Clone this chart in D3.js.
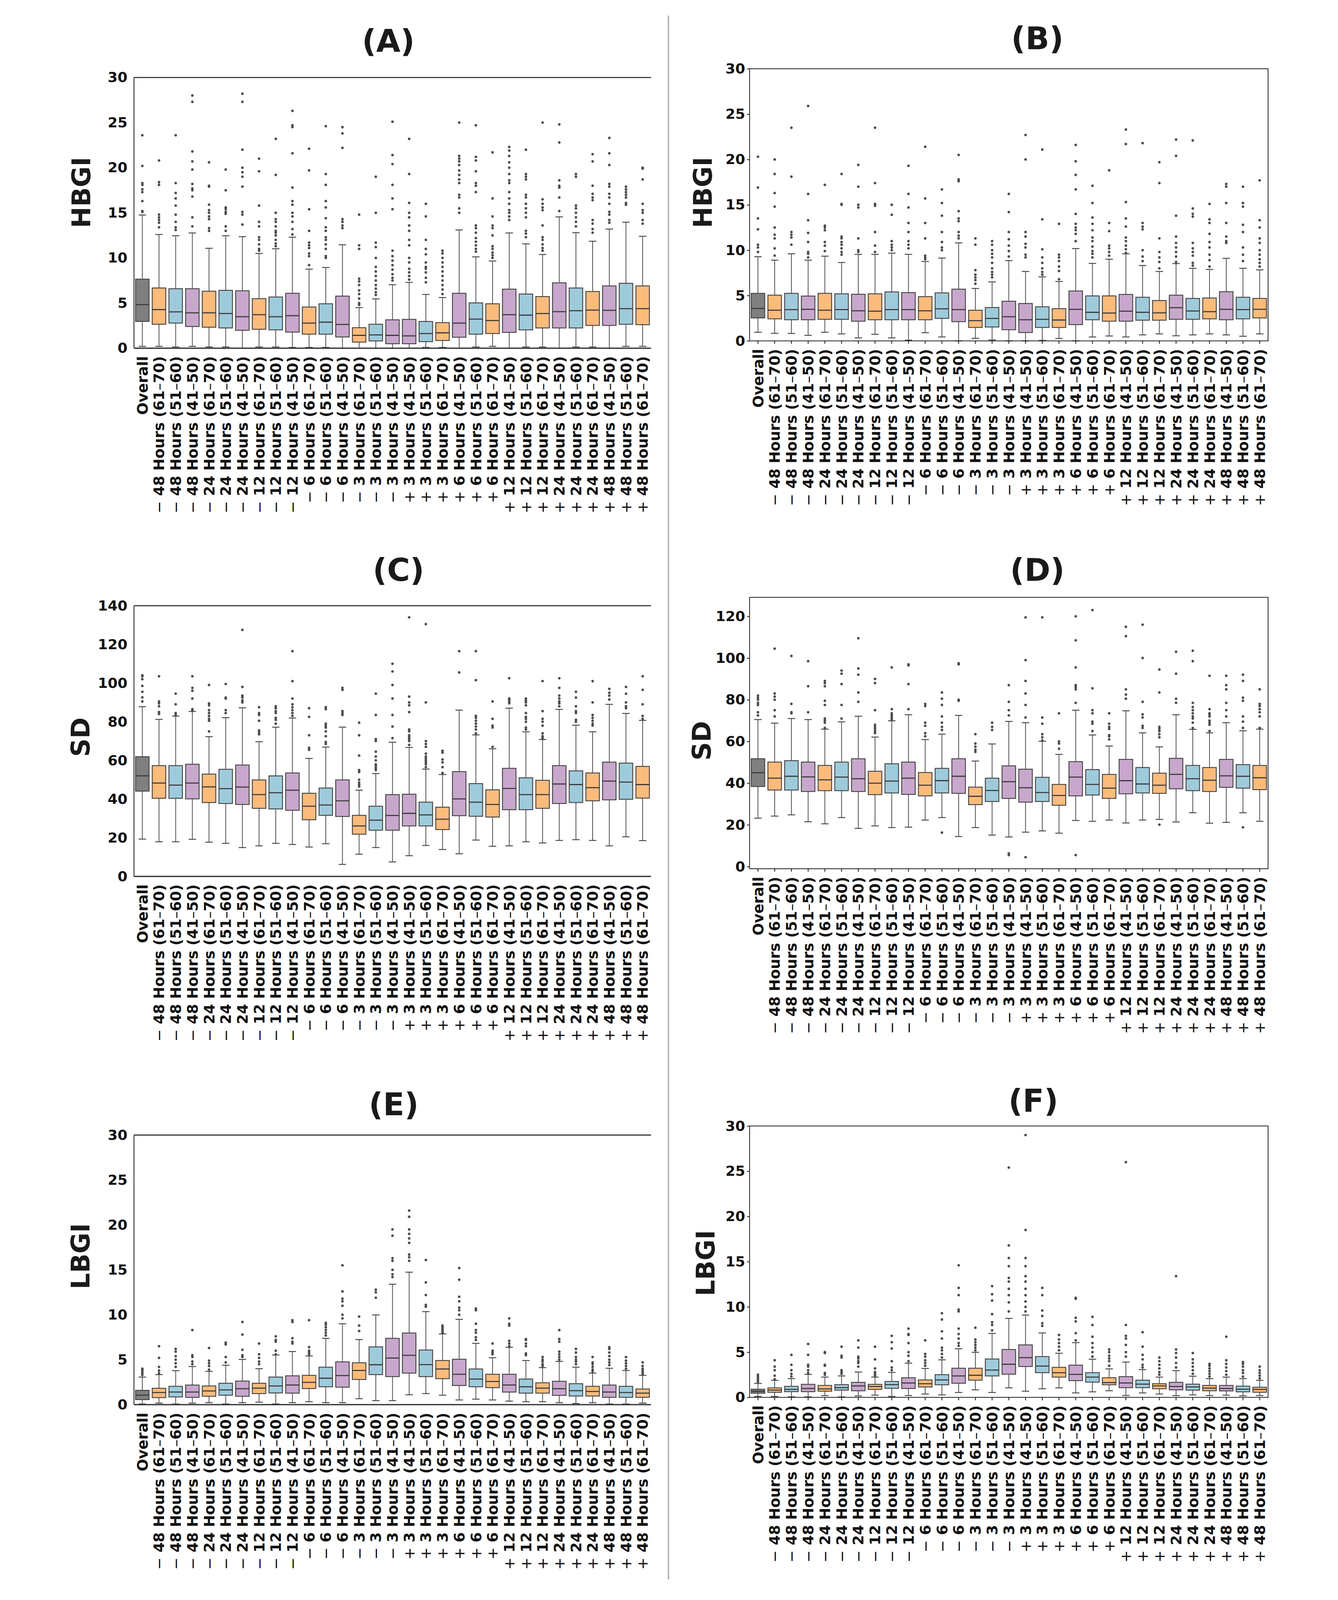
<!DOCTYPE html>
<html><head><meta charset="utf-8">
<script src="https://cdn.jsdelivr.net/npm/d3@7"></script>
<style>html,body{margin:0;padding:0;background:#fff;overflow:hidden;width:100%;height:100%}svg{display:block;width:100vw;height:100vh}</style>
</head><body>
<script>
// ---------- categories ----------
const categories = ["Overall",
 "− 48 Hours (61–70)","− 48 Hours (51–60)","− 48 Hours (41–50)",
 "− 24 Hours (61–70)","− 24 Hours (51–60)","− 24 Hours (41–50)",
 "− 12 Hours (61–70)","− 12 Hours (51–60)","− 12 Hours (41–50)",
 "− 6 Hours (61–70)","− 6 Hours (51–60)","− 6 Hours (41–50)",
 "− 3 Hours (61–70)","− 3 Hours (51–60)","− 3 Hours (41–50)",
 "+ 3 Hours (41–50)","+ 3 Hours (51–60)","+ 3 Hours (61–70)",
 "+ 6 Hours (41–50)","+ 6 Hours (51–60)","+ 6 Hours (61–70)",
 "+ 12 Hours (41–50)","+ 12 Hours (51–60)","+ 12 Hours (61–70)",
 "+ 24 Hours (41–50)","+ 24 Hours (51–60)","+ 24 Hours (61–70)",
 "+ 48 Hours (41–50)","+ 48 Hours (51–60)","+ 48 Hours (61–70)"];
const groups = ["Overall","61–70","51–60","41–50"];
const groupColors = ["#7f7f7f","#fbbb7b","#9ecbdb","#c8a7cc"];

// ---------- tick labels ----------
const ticksHBGI = [0,5,10,15,20,25,30];
const ticksSD_C = [0,20,40,60,80,100,120,140];
const ticksSD_D = [0,20,40,60,80,100,120];
const ticksLBGI = [0,5,10,15,20,25,30];

// ---------- (A) HBGI ----------
const A_lo  = [0.2,0.2,0.13,0.2,0.13,0.13,0,0.13,0.13,0.08,0.08,0.08,0,0,0,0,0,0.08,0.08,0,0.13,0.2,0,0.13,0.13,0,0.13,0.13,0,0.2,0.2];
const A_q1  = [2.96,2.65,2.78,2.4,2.32,2.24,1.98,2.09,2.03,1.78,1.55,1.55,1.24,0.67,0.8,0.49,0.49,0.72,0.85,1.21,1.55,1.62,1.75,2.03,2.24,2.24,2.24,2.52,2.52,2.65,2.6];
const A_med = [4.82,4.27,4.02,3.91,3.91,3.84,3.48,3.71,3.48,3.6,2.78,2.88,2.63,1.42,1.47,1.42,1.36,1.62,1.7,2.78,3.22,3.06,3.71,3.66,3.84,4.04,4.15,4.22,4.2,4.38,4.38];
const A_q3  = [7.65,6.67,6.59,6.59,6.31,6.41,6.36,5.49,5.67,6.08,4.56,4.92,5.77,2.27,2.65,3.14,3.19,2.96,2.83,6.08,5.02,4.92,6.54,6.0,5.72,7.24,6.67,6.28,6.9,7.19,6.9];
const A_hi  = [14.76,12.6,12.46,12.77,11.07,12.46,12.36,10.5,11.02,12.3,8.76,8.94,11.46,4.5,5.46,7.03,7.29,5.95,5.61,13.1,10.12,9.66,12.77,11.56,10.38,14.55,12.8,11.85,13.2,13.96,12.4];
const A_out = [[15.1,15.2,16.3,17.3,17.6,18.1,18.3,20.2,23.6],[13.4,13.9,14.2,14.5,14.8,18.1,18.4,20.8],[13.1,13.4,14.0,14.8,15.8,16.6,17.2,18.3,23.6],[13.5,14.5,16.8,17.5,17.7,18.2,19.8,20.7,21.8,27.3,28.0],[13.0,13.3,14.3,14.6,15.0,15.3,15.9,17.9,18.0,20.6],[13.0,13.5,14.9,15.1,15.4,15.6,17.5,19.8],[13.7,14.8,15.1,17.9,19.0,19.5,20.0,22.0,27.3,28.2],[10.8,11.0,11.5,12.0,12.3,13.5,14.0,15.8,19.6,21.0],[11.3,11.6,12.0,12.5,12.8,13.0,13.5,14.0,14.3,15.0,19.2,23.2],[12.6,13.2,14.0,14.6,15.0,15.9,16.3,17.8,21.6,24.5,24.7,26.3],[9.2,10.2,10.5,11.1,11.4,11.7,13.0,15.4,19.7,22.1],[10.0,10.2,11.0,11.5,12.0,12.3,13.0,13.4,14.4,15.6,16.3,18.1,19.3,24.6],[13.3,13.6,14.0,14.3,22.2,23.8,24.5],[4.8,5.0,5.5,6.0,6.4,7.0,7.4,7.7,11.0,11.4,14.8],[5.9,6.2,6.6,7.0,7.5,8.0,8.5,9.0,10.0,11.2,11.7,15.0,19.0],[7.5,7.8,8.2,8.7,9.2,9.7,10.2,10.8,15.4,16.6,18.1,20.4,21.4,25.1],[7.6,8.0,8.4,8.8,9.5,10.0,11.4,12.0,13.0,13.6,14.5,15.0,16.1,19.3,23.2],[7.3,7.8,8.4,8.8,9.0,9.5,10.4,11.0,12.0,14.6,16.0],[6.0,6.5,7.0,7.5,8.0,8.5,9.0,9.5,10.0,10.5,10.8],[15.0,15.5,16.7,17.0,18.3,18.7,19.2,19.7,20.3,20.7,21.0,21.3,25.0],[10.7,11.0,11.4,11.8,12.2,12.8,13.3,13.6,17.3,18.0,18.3,19.6,20.8,21.2,24.7],[10.0,10.3,10.6,11.0,11.3,12.5,13.3,13.6,14.6,16.6,21.7],[14.2,14.6,15.0,15.3,16.0,16.6,17.3,18.3,18.6,19.3,20.0,20.6,21.3,21.9,22.3],[12.3,12.7,13.0,14.5,15.0,15.5,16.0,16.7,17.0,18.7,19.0,19.3,22.0],[10.8,11.1,11.5,12.0,12.3,13.6,15.3,15.6,16.0,16.5,25.0],[15.2,16.7,17.8,18.0,18.6,22.8,24.8],[13.5,14.0,14.5,15.0,15.5,15.8,19.0,19.3],[12.8,13.2,13.8,14.2,16.4,16.7,17.1,18.0,20.7,21.5],[13.9,14.2,14.8,15.1,16.0,16.7,17.1,17.9,18.2,20.3,21.6,23.3],[15.9,16.1,16.7,17.0,17.3,17.6,17.9],[13.8,14.2,15.0,15.3,16.0,18.7,19.9,20.0]];

// ---------- (B) HBGI ----------
const B_lo  = [0.95,0.84,0.82,0.61,0.95,0.77,0.33,0.72,0.33,0.08,0.9,0.43,0,0.28,0.1,0,0,0.05,0.26,0,0.43,0.54,0.43,0.66,0.77,0.56,0.66,0.77,0.66,0.51,0.77];
const B_q1  = [2.53,2.43,2.33,2.33,2.38,2.38,2.17,2.33,2.33,2.33,2.33,2.48,2.12,1.48,1.53,1.23,0.92,1.48,1.48,1.79,2.33,2.17,2.17,2.28,2.28,2.38,2.38,2.43,2.33,2.43,2.53];
const B_med = [3.58,3.38,3.45,3.48,3.38,3.45,3.32,3.27,3.45,3.45,3.32,3.53,3.45,2.23,2.48,2.66,2.33,2.38,2.3,3.48,3.15,3.07,3.27,3.15,3.09,3.66,3.3,3.22,3.48,3.45,3.48];
const B_q3  = [5.24,5.04,5.24,4.94,5.24,5.19,5.14,5.19,5.4,5.32,4.88,5.29,5.7,3.38,3.68,4.37,4.12,3.76,3.55,5.5,4.96,4.96,5.12,4.81,4.45,5.04,4.68,4.73,5.42,4.81,4.68];
const B_hi  = [9.28,8.9,9.6,8.9,9.34,8.64,9.54,9.54,9.67,9.54,8.75,9.13,10.8,5.78,6.5,8.85,7.65,7.06,6.55,10.18,8.54,9.0,9.6,8.31,7.65,8.52,8.0,7.88,9.1,8.0,7.83];
const B_out = [[9.8,10.3,10.6,12.3,13.5,16.9,20.3],[9.4,10.2,11.3,11.7,12.5,14.8,16.3,18.4,20.0],[10.6,11.4,11.7,12.0,18.1,23.5],[9.2,9.6,9.8,10.9,11.9,13.3,16.2,25.9],[9.9,10.5,10.9,12.2,12.5,12.7,17.2],[9.5,9.8,10.2,10.6,10.9,11.3,11.5,15.0,15.1,18.4],[9.8,10.0,11.3,14.7,15.0,17.0,19.4],[9.8,10.5,12.0,14.9,15.1,17.4,23.5],[10.0,10.3,10.6,11.0,13.9,15.0],[10.2,10.6,11.0,12.0,13.0,14.7,16.2,19.3],[9.0,9.2,9.4,11.3,13.0,15.7,21.4],[10.0,10.3,10.9,12.0,13.8,15.2,16.7],[11.3,11.6,12.0,13.2,13.5,14.3,17.6,17.8,20.5],[6.3,6.7,7.0,7.3,7.8,10.6,11.3],[7.0,7.3,7.6,8.0,8.6,9.2,9.6,10.0,10.6,11.0],[9.3,9.9,10.5,11.2,12.0,14.2,16.2],[9.2,9.5,10.3,10.7,11.5,12.0,20.0,22.7],[7.3,7.6,8.0,8.6,9.2,10.1,13.4,21.1],[6.8,7.7,8.2,8.8,9.2,9.5,12.9],[11.0,11.8,12.2,12.5,12.9,14.0,16.7,18.3,19.8,21.6],[9.2,9.6,9.9,10.4,11.0,11.4,12.2,12.9,13.6,15.2,17.1],[9.4,9.8,10.2,10.5,12.1,13.0,18.8],[9.7,10.1,10.5,11.0,11.4,12.6,13.5,15.3,21.7,23.3],[8.8,9.3,10.0,12.3,12.6,13.0,21.8],[8.0,8.7,9.2,9.8,11.3,17.4,19.7],[8.7,9.3,9.8,10.3,10.8,11.5,13.8,20.4,22.2],[8.3,8.6,9.4,9.8,10.2,10.8,13.7,14.0,14.6,22.1],[8.2,8.9,9.5,10.3,10.9,11.8,13.0,13.4,15.1],[10.8,11.0,11.5,13.0,15.2,17.0,17.3],[8.8,9.5,10.3,12.0,12.8,14.8,15.2,17.0],[8.2,8.6,9.0,9.5,10.0,10.8,11.3,12.5,13.3,17.7]];

// ---------- (C) SD ----------
const C_lo  = [19.3,17.9,17.9,19.2,17.7,17.1,14.9,15.8,17.1,16.5,15.2,16.9,6.2,11.5,14.9,7.5,10.7,16.0,13.9,11.7,18.8,15.6,15.8,17.9,17.3,18.6,19.0,18.6,15.8,20.5,18.5];
const C_q1  = [44.1,40.4,40.4,40.1,38.2,37.7,37.2,35.2,34.9,34.2,29.3,31.6,31.0,21.8,23.9,23.9,26.1,26.1,24.2,31.4,31.1,30.7,34.5,34.5,35.2,37.7,38.2,39.1,39.6,39.9,40.5];
const C_med = [52.0,48.3,47.2,48.3,46.3,45.4,46.2,42.3,43.3,44.6,36.3,36.9,39.1,26.1,29.1,31.5,32.6,31.8,29.6,40.1,38.4,37.2,45.5,42.3,42.3,47.8,47.5,45.9,49.3,48.8,47.5];
const C_q3  = [61.9,57.3,57.3,58.0,52.9,55.4,57.6,49.9,52.0,53.5,43.0,45.7,49.9,31.6,36.3,42.3,42.5,38.4,35.8,54.2,48.0,44.8,55.9,51.0,49.7,57.3,54.6,53.5,59.1,58.6,56.9];
const C_hi  = [87.8,81.2,82.9,85.3,72.3,82.1,87.2,69.7,77.2,81.9,61.0,66.9,77.2,44.6,53.2,69.4,66.7,55.5,52.7,86.0,73.2,66.0,87.0,74.8,70.8,86.4,78.2,74.8,89.0,84.3,80.7];
const C_out = [[90.5,92.6,95.5,98.5,102,103.5,104],[84,85,88,89.5,90.5,103.5],[83.5,84.5,89,94.5],[86,86.5,92,96,97.5,103.5],[75,80.5,81.5,83,84.5,86,88.5,89.5,99],[84.5,86,92,92.5,99.5],[90,91,92.5,93.5,98,127.5],[73.5,74.5,75.5,80.5,83.5,84.5,87.5],[79,81,82,84.5,85.5,87,88],[83,84.5,86,87.5,89,92,101,116.5],[65.5,66.5,73,82.5,87],[68.5,69.5,72.5,75,77,78,79,86.5,87.5],[83.5,84.5,85.5,96.5,97.5],[46.5,47.5,48.5,50,54,55,62.5,73,79.5],[55,56,57,58,60,62,64.5,70,71,83.5,94.5],[71.5,77.5,83.5,92,99,106,110],[68,70,71,72,73,75,76,85,88.5,90,93,134],[56.5,58,59,60,61,62,63.5,67,68.5,70,90,130.5],[53.5,56.5,59,60.5,64,65],[105.5,116.5],[74,76,77.5,79,80.5,82,83,101.5,116.5],[67,77,78,81.5,90.5],[89.5,90.5,91.5,92,102.5],[76,77,80,81.5,82.5,84.5,88.5,90,91,92],[71.5,72.5,74,78,80,81.5,85.5,101],[88,89.5,90.5,92,93.5,97.5,102.5],[80,81,84.5,85.5,88,92.5,95.5],[78,79,80.5,82,83.5,90,101],[91.5,93.5,95,97],[87,88,90,94.5,98],[81.5,83,89,96.5,103.5]];

// ---------- (D) SD ----------
const D_lo  = [23.2,24.2,24.8,21.5,20.5,23.5,18.3,19.5,18.7,18.9,22.3,23.5,14.4,18.7,15.1,14.2,16.5,17.1,16.0,22.1,21.7,22.3,20.9,22.3,22.6,21.4,25.8,20.8,21.2,25.8,21.7];
const D_q1  = [38.4,36.7,36.7,36.0,36.4,36.4,36.0,34.5,35.3,34.6,33.9,35.3,35.1,29.7,31.2,32.7,30.9,31.2,29.4,33.9,34.3,32.7,34.9,35.3,35.1,37.3,36.4,36.0,38.0,37.6,36.9];
const D_med = [45.0,42.4,43.3,43.0,41.6,42.9,42.1,40.0,41.0,42.4,39.0,41.2,43.3,33.7,36.5,40.7,37.8,35.5,34.1,42.9,39.4,37.6,41.2,39.6,39.0,44.2,42.1,41.4,43.5,43.3,42.6];
const D_q3  = [51.7,50.1,50.8,50.1,48.5,50.1,51.7,45.7,49.3,50.1,45.1,47.1,51.7,38.1,42.4,48.3,46.7,42.8,39.4,50.3,46.5,44.2,51.4,47.5,44.8,51.9,48.5,47.5,51.4,48.9,48.5];
const D_hi  = [70.5,68.8,71.0,70.5,65.9,69.4,72.1,62.1,69.9,72.8,60.9,63.5,72.5,50.6,58.8,69.6,69.0,60.1,53.8,75.0,63.1,57.8,74.7,64.1,57.4,72.8,65.8,64.1,69.0,65.1,65.9];
const D_out = [[72.5,74,77.5,78.5,80,81,82],[72,75,80,81.5,83,104.5],[73.5,74,78,101],[74,86.5,98.5],[66.5,69,70,71,77.5,79.5,86.5,88,89],[71,77.5,87.5,92.5,94],[79,83.5,92,95,109.5],[64,65,66,67,68,75,88,90],[70.5,71.5,72.5,73.5,75.5,95.5],[75.5,87.5,96.5,97],[62.5,64,67.5,69,77,78],[16.3,65.5,67,69,72,77.5,80.5,83.5],[79.5,80,97,97.5],[55,56,57.5,59,63.5],[65.5,67,69],[5.5,6.3,72.5,75,79,87],[4.5,71.5,77.5,83,89,99,119.5],[60.5,62,63.5,68.5,71.5,119.5],[56.5,59,60,73.5],[5.5,78.5,85,86,87,95.5,108.5,120],[65,68.5,69.5,73.5,75,85.5,123],[61,62.5,63,66,67,68.5,73.5],[80.5,82.5,85,110.5,115],[66.5,67.5,71.5,73,79,100,116],[20.1,62,63.5,65,66,67,83.5,94.5],[78.5,80.5,92.5,103],[66.5,69,71,72,73.5,75,76.5,78.5,98.5,103.5],[65,68,69,70,72,73,73.5,75.5,91.5],[72,75,78.5,85,87,91.5],[18.8,66.5,69.5,72,79.5,81,89,92],[66.5,72,74,75.5,77,78,85]];

// ---------- (E) LBGI ----------
const E_lo  = [0.07,0.17,0.07,0.17,0.22,0.07,0.22,0.27,0.07,0.22,0.32,0.22,0.22,0.66,0.44,0.44,1.1,1.23,1.05,0.52,0.61,0.52,0.39,0.32,0.32,0.22,0.12,0.22,0.07,0.07,0.17];
const E_q1  = [0.56,0.78,0.86,0.81,0.93,1.05,0.93,1.23,1.3,1.28,1.79,1.99,1.94,2.8,3.34,3.12,3.51,3.12,2.89,2.13,1.99,1.89,1.4,1.28,1.28,1.03,0.96,0.96,0.81,0.81,0.81];
const E_med = [1.05,1.35,1.4,1.4,1.52,1.64,1.77,1.84,2.08,2.18,2.48,2.94,3.24,3.8,4.44,5.18,5.49,4.46,3.97,3.38,2.85,2.58,2.18,1.99,1.84,1.77,1.55,1.47,1.4,1.35,1.28];
const E_q3  = [1.59,1.82,2.04,2.18,2.08,2.38,2.62,2.38,3.07,3.21,3.26,4.17,4.76,4.66,6.43,7.38,7.97,6.08,4.91,5.05,3.97,3.38,3.38,2.85,2.43,2.6,2.33,2.04,2.18,2.04,1.74];
const E_hi  = [3.07,3.34,3.78,4.24,3.7,4.39,5.03,4.0,5.52,5.91,5.42,7.38,9.0,7.24,9.98,13.4,14.74,10.35,7.87,9.49,6.82,5.22,6.38,4.91,4.12,4.81,4.17,3.51,4.05,3.8,3.26];
const E_out = [[3.3,3.5,3.7,3.9,4.0],[3.5,3.8,4.2,5.2,6.5],[4.2,4.6,5.0,5.4,5.9,6.2],[4.5,4.8,5.3,5.5,8.3],[3.9,4.3,4.6,4.9,6.3],[4.7,5.3,6.7,6.9],[5.3,5.5,6.1,7.8,9.2],[4.5,4.8,5.2,5.6,6.8],[5.6,6.0,7.0,7.2,7.6],[6.8,7.0,7.4,9.2,9.4],[5.6,5.8,6.0,6.4,9.4],[7.7,8.0,8.3,8.6,8.9,9.1],[9.6,10.0,11.0,11.5,11.8,12.6,15.5],[8.2,8.8,9.8],[11.9,12.5,12.8],[14.2,14.5,15.0,16.0,16.3,18.8,19.5],[16.0,16.4,16.7,18.0,18.5,19.0,19.5,20.9,21.6],[10.9,11.1,12.2,13.6,16.1],[8.0,8.2,8.4,8.6,8.8],[10.0,10.5,10.8,11.5,12.0,13.9,15.2],[7.2,7.5,8.0,8.3,9.0,10.5,10.7],[5.6,5.8,6.0,6.8],[6.5,6.8,7.1,8.8,9.0,9.6],[5.5,5.7,6.5,6.8,7.2,7.3],[4.3,4.5,4.8,5.0,5.3],[5.0,5.3,5.6,5.9,7.0,7.3,8.3],[4.5,4.8,5.0,5.3,5.8,6.2],[3.7,3.9,4.2,4.5,4.7,5.3],[4.4,4.7,5.0,5.4,5.8,6.2,6.4],[4.0,4.3,4.6,4.9,5.3],[3.4,3.6,3.8,4.0,4.3,4.7]];

// ---------- (F) LBGI ----------
const F_lo  = [0.1,0.1,0.05,0.05,0.2,0.05,0.15,0.24,0.1,0.2,0.37,0.27,0.54,0.83,0.54,1.05,0.68,0.95,1.05,0.49,0.61,0.73,0.2,0.49,0.37,0.2,0.27,0.2,0.24,0.17,0.2];
const F_q1  = [0.46,0.56,0.63,0.63,0.68,0.8,0.73,0.88,1.0,0.98,1.15,1.39,1.56,1.9,2.37,2.56,3.41,2.73,2.24,1.85,1.68,1.39,1.07,1.07,0.95,0.83,0.8,0.73,0.71,0.61,0.56];
const F_med = [0.68,0.8,0.88,0.98,0.93,1.07,1.27,1.2,1.41,1.59,1.51,1.93,2.37,2.44,3.02,3.66,4.39,3.46,2.73,2.54,2.24,1.63,1.59,1.46,1.27,1.2,1.15,1.02,0.98,0.9,0.88];
const F_q3  = [0.9,1.05,1.22,1.44,1.32,1.41,1.66,1.44,1.76,2.17,1.93,2.51,3.22,3.22,4.24,5.29,5.8,4.51,3.32,3.56,2.73,2.17,2.29,1.9,1.51,1.66,1.46,1.32,1.32,1.24,1.12];
const F_hi  = [1.54,1.88,2.07,2.54,2.24,2.37,2.8,2.24,2.76,3.78,3.2,4.15,5.37,4.98,7.07,8.73,9.1,7.12,4.88,6.05,4.22,3.15,3.9,3.07,2.24,2.95,2.34,2.07,2.24,2.07,1.88];
const F_out = [[1.7,1.9,2.1,2.3,2.5],[2.0,2.4,3.0,3.4,4.1],[2.3,2.6,3.0,3.6,4.7],[2.7,3.0,3.4,3.6,4.7,5.9],[2.5,2.7,3.5,3.6,4.9,5.0],[2.6,2.8,3.0,4.4,4.6,5.6],[3.4,3.8,4.0,4.3,4.5,5.5,6.3],[2.4,2.6,2.8,3.2,4.2,5.6],[3.0,3.3,4.0,5.4,6.1,6.8],[4.0,4.6,5.0,6.0,6.9,7.0,7.6],[3.5,3.8,4.1,4.5,4.8,6.3],[4.4,4.8,5.2,5.5,6.5,7.3,8.6,9.3],[5.7,6.0,6.5,7.0,7.6,9.5,9.7,11.3,12.1,14.6],[5.2,5.5,5.8,6.1,6.4,7.7],[7.4,8.0,8.3,9.2,10.7,11.4,12.3],[9.5,10.5,11.3,12.0,12.8,13.2,14.5,15.4,16.8,25.4],[9.5,10.0,10.6,11.3,12.0,12.8,13.4,14.5,15.4,18.5,29.0],[7.9,8.2,9.0,9.6,11.3,12.1],[5.2,5.6,6.0,6.4,6.9],[6.3,7.1,8.4,8.8,10.9,11.0],[4.5,5.0,5.5,6.0,6.7,8.0,8.9],[3.5,4.0,4.3,4.6,5.0,5.3],[4.5,5.0,5.8,6.5,6.8,8.0,26.0],[3.3,3.6,4.2,4.7,5.6,7.2],[2.5,2.8,3.2,3.6,4.0,4.4],[3.3,3.8,4.4,4.9,5.3,13.4],[2.6,3.0,3.4,3.8,4.2,4.9],[2.3,2.6,2.9,3.2,3.5,3.7],[2.5,2.9,3.3,3.7,4.1,6.7],[2.3,2.7,3.0,3.4,3.7,3.9],[2.1,2.4,2.7,3.0,3.4]];

// ---------- layout ----------
const W = 3425, H = 4398;
const panels = [
 {title:"(A)", ylabel:"HBGI", lo:A_lo,q1:A_q1,med:A_med,q3:A_q3,hi:A_hi,out:A_out, dom:[0,30], ticks:ticksHBGI,
  x0:242,x1:1663,yT:213,yB:957, frame:false, tx:941,ty:143, lx:122,ly:529},
 {title:"(B)", ylabel:"HBGI", lo:B_lo,q1:B_q1,med:B_med,q3:B_q3,hi:B_hi,out:B_out, dom:[0,30], ticks:ticksHBGI,
  x0:1934,x1:3359,yT:189,yB:937, frame:true, tx:2725,ty:135, lx:1830,ly:529},
 {title:"(C)", ylabel:"SD", lo:C_lo,q1:C_q1,med:C_med,q3:C_q3,hi:C_hi,out:C_out, dom:[0,140], ticks:ticksSD_C,
  x0:242,x1:1663,yT:1665,yB:2409, frame:false, tx:969,ty:1597, lx:120,ly:2026},
 {title:"(D)", ylabel:"SD", lo:D_lo,q1:D_q1,med:D_med,q3:D_q3,hi:D_hi,out:D_out, dom:[-1.05,129.1], ticks:ticksSD_D,
  x0:1934,x1:3359,yT:1642,yB:2388, frame:true, tx:2725,ty:1597, lx:1827,ly:2036},
 {title:"(E)", ylabel:"LBGI", lo:E_lo,q1:E_q1,med:E_med,q3:E_q3,hi:E_hi,out:E_out, dom:[0,30], ticks:ticksLBGI,
  x0:242,x1:1663,yT:3120,yB:3861, frame:false, tx:956,ty:3065, lx:120,ly:3453},
 {title:"(F)", ylabel:"LBGI", lo:F_lo,q1:F_q1,med:F_med,q3:F_q3,hi:F_hi,out:F_out, dom:[0,30], ticks:ticksLBGI,
  x0:1934,x1:3359,yT:3095,yB:3841, frame:true, tx:2714,ty:3056, lx:1838,ly:3472}
];

const svg = d3.select("body").append("svg").attr("viewBox",`0 0 ${W} ${H}`).attr("preserveAspectRatio","xMidYMid meet");
svg.append("rect").attr("width",W).attr("height",H).attr("fill","#ffffff");

// separator
svg.append("line").attr("x1",1711).attr("x2",1711).attr("y1",43).attr("y2",4341)
  .attr("stroke","#b3b3ba").attr("stroke-width",4);

const color = d3.scaleOrdinal().domain(groups).range(groupColors);
const groupOf = c => { const m = c.match(/\((\d\d–\d\d)\)/); return m ? m[1] : "Overall"; };
const EDGE = "#444444";
const tickFont = "'DejaVu Sans', Verdana, sans-serif";

panels.forEach(p => {
  const g = svg.append("g");
  const x = d3.scaleBand().domain(categories).range([p.x0, p.x1]).paddingInner(0.19).paddingOuter(0.095);
  const y = d3.scaleLinear().domain(p.dom).range([p.yB, p.yT]);
  const bw = x.bandwidth();
  const cx = c => x(c) + bw/2;
  const capW = bw*0.55;

  const items = categories.map((c,i)=>({c, lo:p.lo[i], q1:p.q1[i], med:p.med[i], q3:p.q3[i], hi:p.hi[i], out:p.out[i]}));
  const bg = g.append("g");
  items.forEach(d => {
    const b = bg.append("g");
    const xc = cx(d.c);
    b.append("line").attr("x1",xc).attr("x2",xc).attr("y1",y(d.q3)).attr("y2",y(d.hi)).attr("stroke",EDGE).attr("stroke-width",2);
    b.append("line").attr("x1",xc).attr("x2",xc).attr("y1",y(d.q1)).attr("y2",y(d.lo)).attr("stroke",EDGE).attr("stroke-width",2);
    b.append("line").attr("x1",xc-capW/2).attr("x2",xc+capW/2).attr("y1",y(d.hi)).attr("y2",y(d.hi)).attr("stroke",EDGE).attr("stroke-width",2.5);
    b.append("line").attr("x1",xc-capW/2).attr("x2",xc+capW/2).attr("y1",y(d.lo)).attr("y2",y(d.lo)).attr("stroke",EDGE).attr("stroke-width",2.5);
    b.append("rect").attr("x",x(d.c)).attr("width",bw).attr("y",y(d.q3)).attr("height",y(d.q1)-y(d.q3))
      .attr("fill",color(groupOf(d.c))).attr("stroke",EDGE).attr("stroke-width",2.5);
    b.append("line").attr("x1",x(d.c)).attr("x2",x(d.c)+bw).attr("y1",y(d.med)).attr("y2",y(d.med)).attr("stroke","#3a3a3a").attr("stroke-width",3);
    b.selectAll("circle").data(d.out).join("circle").attr("cx",xc).attr("cy",v=>y(v)).attr("r",3.2)
      .attr("fill","#505050").attr("stroke","#3a3a3a").attr("stroke-width",0.8);
  });

  // y axis
  const ya = g.append("g").attr("transform",`translate(${p.x0},0)`)
    .call(d3.axisLeft(y).tickValues(p.ticks).tickFormat(d3.format("d")).tickSize(p.frame?7:0).tickPadding(p.frame?5:18));
  ya.select(".domain").remove();
  ya.selectAll("line").attr("stroke","#000").attr("stroke-width",2);
  ya.selectAll("text").attr("font-family",tickFont).attr("font-weight","bold").attr("font-size",39).attr("fill","#111");

  // x axis
  const xa = g.append("g").attr("transform",`translate(0,${p.yB})`)
    .call(d3.axisBottom(x).tickSize(p.frame?8:0).tickPadding(0));
  xa.select(".domain").remove();
  xa.selectAll("line").attr("stroke","#000").attr("stroke-width",2);
  xa.selectAll("text").each(function(c){
    const t = d3.select(this);
    t.text(null).attr("transform","rotate(-90)").attr("text-anchor","end")
      .attr("x",-22).attr("y",0).attr("dy","0.36em")
      .attr("font-family",tickFont).attr("font-size",40).attr("fill","#111").style("white-space","pre");
    c.split(/([−+–])/).filter(s=>s.length).forEach(s=>{
      t.append("tspan").text(s).attr("font-weight", /^[−+–]$/.test(s) ? "normal" : "bold");
    });
  });

  // spines
  if (p.frame) {
    g.append("rect").attr("x",p.x0).attr("y",p.yT).attr("width",p.x1-p.x0).attr("height",p.yB-p.yT)
      .attr("fill","none").attr("stroke","#111").attr("stroke-width",2);
  } else {
    g.append("line").attr("x1",p.x0).attr("x2",p.x1).attr("y1",p.yT).attr("y2",p.yT).attr("stroke","#333").attr("stroke-width",3);
    g.append("line").attr("x1",p.x0).attr("x2",p.x1).attr("y1",p.yB).attr("y2",p.yB).attr("stroke","#333").attr("stroke-width",3.5);
    g.append("line").attr("x1",p.x0).attr("x2",p.x0).attr("y1",p.yT).attr("y2",p.yB).attr("stroke","#333").attr("stroke-width",2.5);
  }

  // title
  g.append("text").attr("x",p.tx).attr("y",p.ty).attr("text-anchor","middle")
    .attr("font-family",tickFont).attr("font-weight","bold").attr("font-size",86).attr("fill","#1a1a1a").text(p.title);
  // y label
  g.append("text").attr("transform",`translate(${p.lx},${p.ly}) rotate(-90)`).attr("text-anchor","middle")
    .attr("font-family",tickFont).attr("font-weight","bold").attr("font-size",70).attr("fill","#1a1a1a").text(p.ylabel);
});
</script>
</body></html>
